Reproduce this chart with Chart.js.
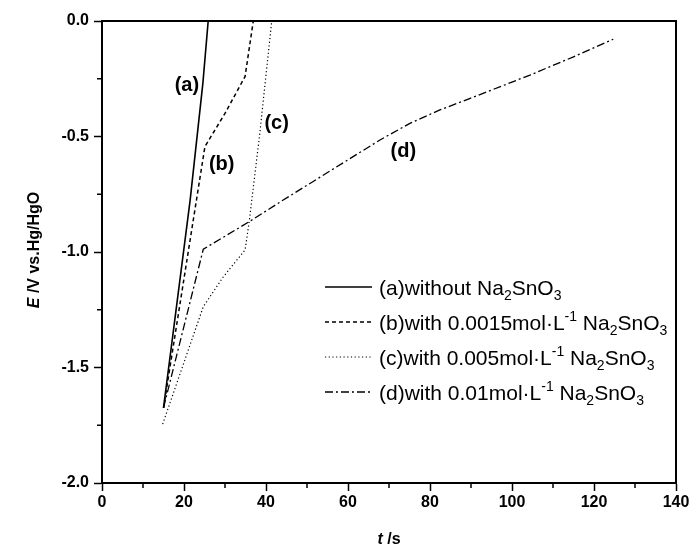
<!DOCTYPE html>
<html>
<head>
<meta charset="utf-8">
<script src="https://cdn.jsdelivr.net/npm/chart.js@4.4.0/dist/chart.umd.min.js"></script>
<style>
html, body { margin: 0; padding: 0; background: #fff; }
</style>
</head>
<body>
<canvas id="chart" width="693" height="551"></canvas>
<script>
// data (t in s, E in V vs. Hg/HgO)
const timeA = [15, 21.5, 24.6, 25.9];
const potA = [-1.675, -0.775, -0.27, 0];
const timeB = [15, 25.1, 30, 34.9, 36.9];
const potB = [-1.675, -0.544, -0.40, -0.24, 0];
const timeC = [14.8, 24.7, 29.6, 34.9, 35.9, 38.5, 41.4];
const potC = [-1.745, -1.237, -1.107, -0.991, -0.869, -0.485, 0];
const timeD = [15, 24.7, 35.9, 44.2, 55, 67.8, 75.1, 82.4, 89.8, 104.4, 115, 124.7];
const potD = [-1.675, -0.988, -0.869, -0.775, -0.656, -0.515, -0.443, -0.385, -0.335, -0.234, -0.155, -0.079];

const xTicks = [0, 20, 40, 60, 80, 100, 120, 140];
const yTicks = [0.0, -0.5, -1.0, -1.5, -2.0];

// curve labels placed in data coordinates
const curveTags = ['(a)', '(b)', '(c)', '(d)'];
const tagT = [20.7, 29.2, 42.6, 73.5];
const tagE = [-0.277, -0.623, -0.443, -0.566];

// legend text, split into [text, kind] parts
const legendText = [
	[['(a)without Na', ''], ['2', 'sub'], ['SnO', ''], ['3', 'sub']],
	[['(b)with 0.0015mol\u00b7L', ''], ['-1', 'sup'], [' Na', ''], ['2', 'sub'], ['SnO', ''], ['3', 'sub']],
	[['(c)with 0.005mol\u00b7L', ''], ['-1', 'sup'], [' Na', ''], ['2', 'sub'], ['SnO', ''], ['3', 'sub']],
	[['(d)with 0.01mol\u00b7L', ''], ['-1', 'sup'], [' Na', ''], ['2', 'sub'], ['SnO', ''], ['3', 'sub']]
];

const FONT = '"Liberation Sans", Arial, sans-serif';

function pts(ts, es) {
	return ts.map((t, i) => ({ x: t, y: es[i] }));
}

const styles = [
	{ borderWidth: 1.6, borderDash: [] },
	{ borderWidth: 1.5, borderDash: [4, 3] },
	{ borderWidth: 1.2, borderDash: [1.2, 2.5] },
	{ borderWidth: 1.3, borderDash: [8, 3, 2, 3] }
];

const series = [pts(timeA, potA), pts(timeB, potB), pts(timeC, potC), pts(timeD, potD)];

const extras = {
	id: 'extras',
	afterDraw(chart) {
		const ctx = chart.ctx;
		const a = chart.chartArea;
		const xs = chart.scales.x, ys = chart.scales.y;
		ctx.save();
		ctx.strokeStyle = '#000';
		// frame
		ctx.lineWidth = 2;
		ctx.strokeRect(a.left, a.top, a.right - a.left, a.bottom - a.top);
		// minor ticks
		ctx.lineWidth = 1.5;
		ctx.beginPath();
		for (let t = 10; t < 140; t += 20) {
			const px = xs.getPixelForValue(t);
			ctx.moveTo(px, a.bottom);
			ctx.lineTo(px, a.bottom + 5);
		}
		for (let e = -0.25; e > -2; e -= 0.5) {
			const py = ys.getPixelForValue(e);
			ctx.moveTo(a.left, py);
			ctx.lineTo(a.left - 5, py);
		}
		ctx.stroke();

		// curve tags
		ctx.fillStyle = '#000';
		ctx.font = 'bold 20px ' + FONT;
		ctx.textAlign = 'center';
		ctx.textBaseline = 'middle';
		curveTags.forEach((s, i) => {
			ctx.fillText(s, xs.getPixelForValue(tagT[i]), ys.getPixelForValue(tagE[i]));
		});

		// legend
		ctx.textAlign = 'left';
		ctx.textBaseline = 'alphabetic';
		const lx = a.left + 223, ly0 = a.top + 266;
		legendText.forEach((parts, i) => {
			const y = ly0 + i * 35;
			const ds = chart.data.datasets[i];
			ctx.setLineDash(ds.borderDash);
			ctx.lineWidth = ds.borderWidth;
			ctx.beginPath();
			ctx.moveTo(lx, y);
			ctx.lineTo(lx + 47, y);
			ctx.stroke();
			ctx.setLineDash([]);
			let x = lx + 54;
			parts.forEach(([txt, kind]) => {
				let dy = 7.5;
				if (kind === 'sub') { ctx.font = '14px ' + FONT; dy = 13; }
				else if (kind === 'sup') { ctx.font = '14px ' + FONT; dy = -1; }
				else ctx.font = '21px ' + FONT;
				ctx.fillText(txt, x, y + dy);
				x += ctx.measureText(txt).width;
			});
		});

		// axis titles with italic symbols
		const TS = 'bold 16px ' + FONT, TI = 'bold italic 16px ' + FONT;
		ctx.font = TI;
		const xt1 = 't', xt2 = ' /s';
		const w1 = ctx.measureText(xt1).width;
		ctx.font = TS;
		const w2 = ctx.measureText(xt2).width;
		let sx = (a.left + a.right) / 2 - (w1 + w2) / 2;
		ctx.font = TI;
		ctx.fillText(xt1, sx, 544);
		ctx.font = TS;
		ctx.fillText(xt2, sx + w1, 544);

		ctx.translate(39, 250);
		ctx.rotate(-Math.PI / 2);
		ctx.font = TI;
		const yt1 = 'E', yt2 = ' /V vs.Hg/HgO';
		const v1 = ctx.measureText(yt1).width;
		ctx.font = TS;
		const v2 = ctx.measureText(yt2).width;
		sx = -(v1 + v2) / 2;
		ctx.font = TI;
		ctx.fillText(yt1, sx, 0);
		ctx.font = TS;
		ctx.fillText(yt2, sx + v1, 0);
		ctx.restore();
	}
};

new Chart(document.getElementById('chart').getContext('2d'), {
	type: 'line',
	data: {
		datasets: series.map((d, i) => ({
			label: curveTags[i],
			data: d,
			borderColor: '#000',
			borderWidth: styles[i].borderWidth,
			borderDash: styles[i].borderDash,
			pointRadius: 0,
			tension: 0,
			fill: false
		}))
	},
	options: {
		responsive: false,
		animation: false,
		layout: { padding: { top: 21, right: 17, left: 0, bottom: 0 } },
		plugins: { legend: { display: false }, tooltip: { enabled: false } },
		scales: {
			x: {
				type: 'linear',
				min: 0, max: 140,
				afterBuildTicks: s => { s.ticks = xTicks.map(v => ({ value: v })); },
				afterFit: s => { s.height = 68; },
				border: { color: '#000', width: 2 },
				grid: { drawOnChartArea: false, drawTicks: true, tickLength: 8, tickColor: '#000', tickWidth: 1.5 },
				ticks: { color: '#000', font: { family: FONT, size: 16, weight: 'bold' }, padding: 2, maxRotation: 0, autoSkip: false }
			},
			y: {
				type: 'linear',
				min: -2, max: 0,
				afterBuildTicks: s => { s.ticks = yTicks.map(v => ({ value: v })); },
				afterFit: s => { s.width = 102; },
				border: { color: '#000', width: 2 },
				grid: { drawOnChartArea: false, drawTicks: true, tickLength: 8, tickColor: '#000', tickWidth: 1.5 },
				ticks: { color: '#000', font: { family: FONT, size: 16, weight: 'bold' }, padding: 5, autoSkip: false,
					callback: v => v.toFixed(1) }
			}
		}
	},
	plugins: [extras]
});
</script>
</body>
</html>
